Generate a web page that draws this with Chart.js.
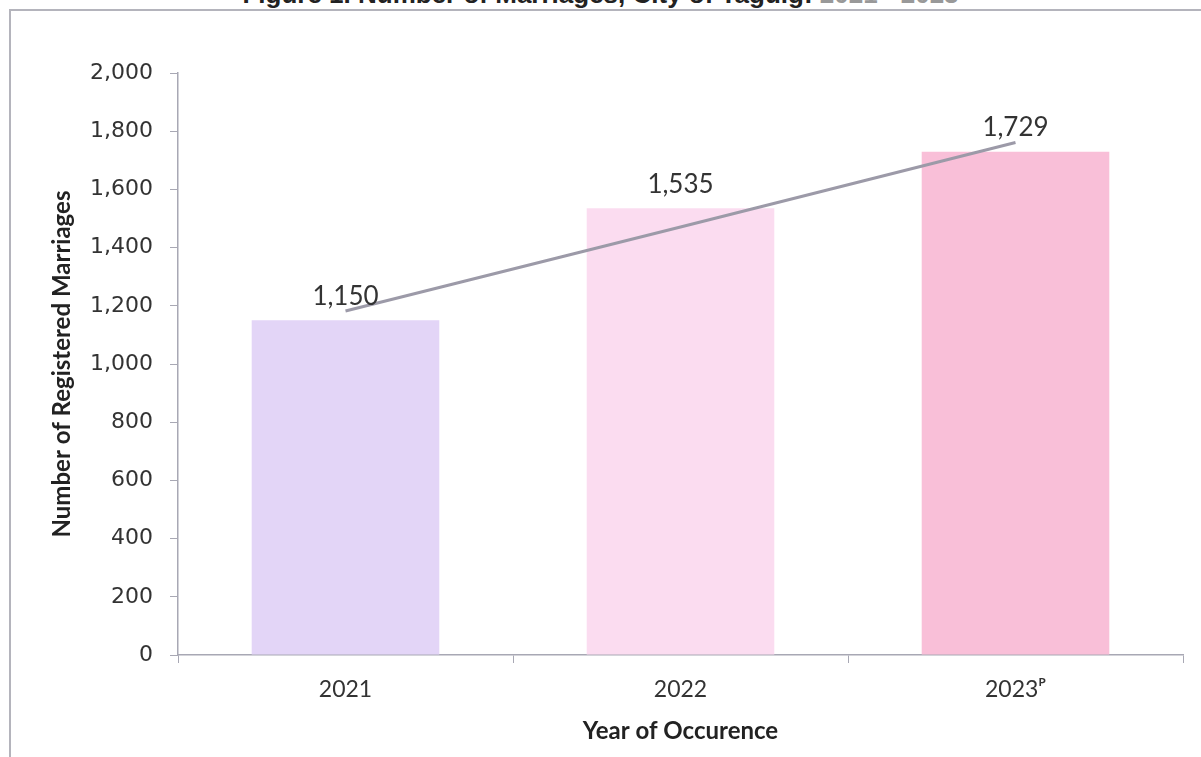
<!DOCTYPE html>
<html>
<head>
<meta charset="utf-8">
<script src="https://cdn.jsdelivr.net/npm/chart.js@4.4.1/dist/chart.umd.min.js"></script>
<style>
  html, body { margin: 0; padding: 0; background: #ffffff; overflow: hidden; }
  #wrap { position: relative; width: 1201px; height: 757px; overflow: hidden; background: #fff; }
  #frame { position: absolute; left: 9px; top: 9px; width: 1300px; height: 900px;
           border-top: 2px solid #b4b4bc; border-left: 2px solid #b4b4bc; }
  #title { position: absolute; left: 0; width: 1201px; top: -21px; text-align: center;
           font: bold 26px "Liberation Sans", Arial, sans-serif; color: #222; white-space: nowrap; }
  #title span { color: #999; }
  canvas { position: absolute; left: 0; top: 0; }
</style>
</head>
<body>
<div id="wrap">
  <div id="title">Figure 1. Number of Marriages, City of Taguig: <span>2021 - 2023</span></div>
  <div id="frame"></div>
  <canvas id="c" width="1201" height="757"></canvas>
</div>
<script>
const categories = ['2021', '2022', '2023\u1D3E'];
const marriages = [1150, 1535, 1729];
const trendValues = [1182, 1471, 1761];
const barColors = ['#e3d5f7', '#fbdcf0', '#f9bfd8'];
const yTicks = [0, 200, 400, 600, 800, 1000, 1200, 1400, 1600, 1800, 2000];

const narrow = 'Lato, "Open Sans", sans-serif';

const labelPlugin = {
  id: 'barLabels',
  afterDatasetsDraw(chart) {
    const meta = chart.getDatasetMeta(0);
    const ctx = chart.ctx;
    ctx.save();
    ctx.font = '26px ' + narrow;
    ctx.fillStyle = '#333333';
    ctx.textAlign = 'center';
    ctx.textBaseline = 'bottom';
    meta.data.forEach((bar, i) => {
      ctx.fillText(marriages[i].toLocaleString('en-US'), bar.x, bar.y - 11);
    });
    ctx.restore();
  }
};

new Chart(document.getElementById('c'), {
  type: 'bar',
  data: {
    labels: categories,
    datasets: [
      {
        type: 'bar',
        data: marriages,
        backgroundColor: barColors,
        borderWidth: 0,
        barPercentage: 0.56,
        categoryPercentage: 1.0,
        order: 2
      },
      {
        type: 'line',
        data: trendValues,
        borderColor: '#9c9aa8',
        borderWidth: 3,
        pointRadius: 0,
        fill: false,
        tension: 0,
        order: 1
      }
    ]
  },
  options: {
    responsive: false,
    animation: false,
    devicePixelRatio: 1,
    layout: { padding: { left: 0, right: 18, top: 73, bottom: 0 } },
    plugins: { legend: { display: false }, tooltip: { enabled: false }, title: { display: false } },
    scales: {
      x: {
        grid: { display: true, drawOnChartArea: false, drawTicks: true, tickLength: 8, color: '#a8a8b4', offset: true },
        border: { display: true, color: '#a8a8b4', width: 1.5 },
        ticks: { color: '#333', font: { family: narrow, size: 23 }, padding: 13 },
        title: { display: true, text: 'Year of Occurence', color: '#222',
                 font: { family: narrow, size: 24, weight: 'bold' }, padding: { top: 0, bottom: 11 } },
        afterFit(scale) { scale.height = 102; }
      },
      y: {
        min: 0, max: 2000,
        afterBuildTicks(scale) { scale.ticks = yTicks.map(v => ({ value: v })); },
        grid: { display: true, drawOnChartArea: false, drawTicks: true, tickLength: 8, color: '#a8a8b4' },
        border: { display: true, color: '#a8a8b4', width: 1.5 },
        ticks: { color: '#333', font: { family: '"DejaVu Sans", Verdana, sans-serif', size: 22 }, padding: 17,
                 callback: (v) => Number(v).toLocaleString('en-US') },
        title: { display: true, text: 'Number of Registered Marriages', color: '#222',
                 font: { family: narrow, size: 24, weight: 'bold' }, padding: { top: 48, bottom: 0 } },
        afterFit(scale) { scale.width = 178; }
      }
    }
  },
  plugins: [labelPlugin]
});
</script>
</body>
</html>
